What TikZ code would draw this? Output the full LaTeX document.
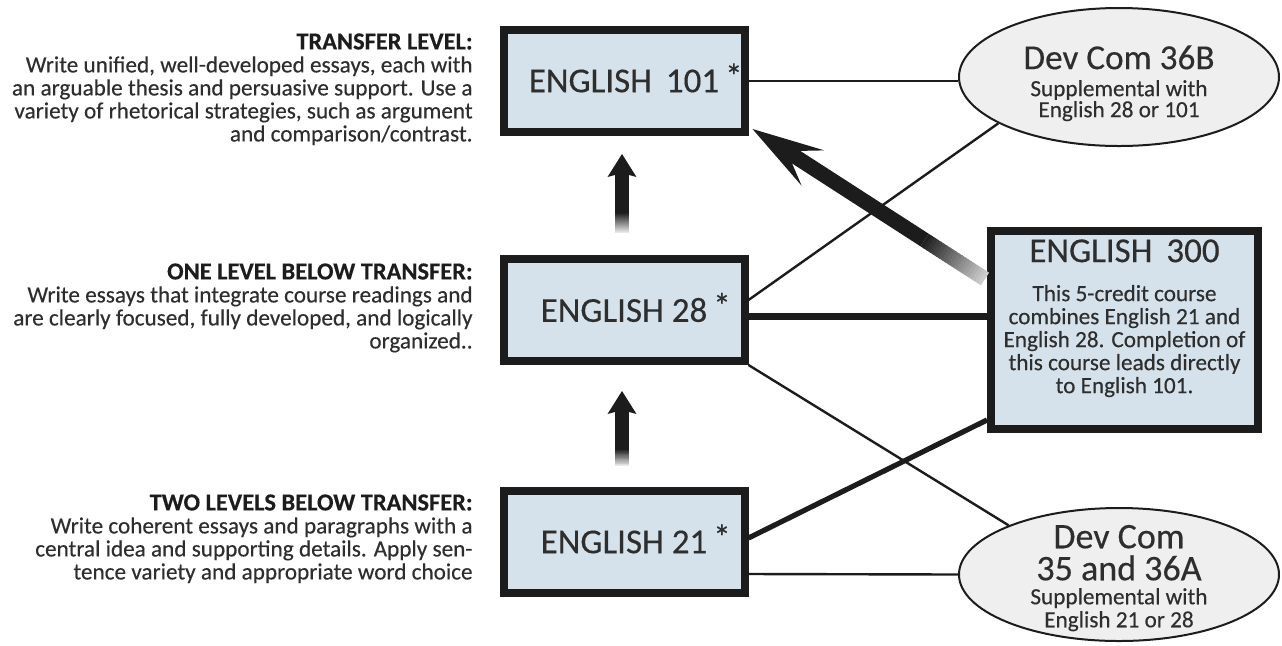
\documentclass[tikz,border=0pt]{standalone}
\usepackage{fontspec}
\setmainfont{Carlito}[FakeBold=0.35]
\usetikzlibrary{calc,shapes.geometric}
\definecolor{boxfill}{HTML}{D6E2EB}
\definecolor{ellfill}{HTML}{EFEFEF}
\definecolor{ink}{HTML}{1C1C1C}
\definecolor{txt}{HTML}{2E2E2E}
\newcommand\hdfont{\fontsize{12.2}{11.5}\selectfont\bfseries\color{ink}}
\newcommand\ttlfont{\fontsize{17.5}{20}\selectfont}
\newcommand\bodysize[1]{\fontsize{11.6}{#1}\selectfont\lineskiplimit=-20pt\relax}
% faded shaft: #1 tip, #2 tail, #3 width, #4 start distance, #5 fade start fraction, #6 final ink percentage
\newcommand\fadedshaft[6]{%
  \draw[line width=#3, ink] ($(#1)!#4!(#2)$) -- ($(#1)!#5!(#2)$);
  \foreach \i in {0,...,19}{%
    \pgfmathsetmacro\fa{#5+(1-#5)*\i/20}%
    \pgfmathsetmacro\fb{#5+(1-#5)*min(\i+1.4,20)/20}%
    \pgfmathsetmacro\fadeval{100-(100-#6)*(\i+0.5)/20}%
    \draw[line width=#3, ink!\fadeval] ($(#1)!\fa!(#2)$) -- ($(#1)!\fb!(#2)$);
  }%
}
% arrow head: #1 tip, #2 tail, #3 barb distance, #4 barb half width, #5 notch distance, #6 notch half width
\newcommand\arrowhead[6]{%
  \fill[ink] (#1) -- ($(#1)!#3!(#2)!#4!90:(#2)$) -- ($(#1)!#5!(#2)!#6!90:(#2)$)
     -- ($(#1)!#5!(#2)!#6!-90:(#2)$) -- ($(#1)!#3!(#2)!#4!-90:(#2)$) -- cycle;
}
\begin{document}
\begin{tikzpicture}[x=0.5pt,y=-0.5pt,
  course/.style={rectangle, draw=ink, line width=4pt, fill=boxfill, inner sep=0pt,
    minimum width=120.5pt, minimum height=51pt, text=txt, font=\ttlfont},
  supp/.style={ellipse, draw=ink, line width=1pt, fill=ellfill, inner sep=0pt,
    minimum width=160pt},
  supptext/.style={align=center, anchor=north, inner sep=0pt, text=txt},
  desc/.style={align=right, anchor=north east, inner sep=0pt, text=txt,
    font=\bodysize{11.5}},
  link/.style={draw=ink, line width=1.2pt},
  midlink/.style={draw=ink, line width=2.6pt},
  heavylink/.style={draw=ink, line width=3.5pt}
]
\useasboundingbox (0,0) rectangle (1282,645);

% description texts
\node[desc] (d1) at (473,33) {{\hdfont TRANSFER LEVEL:}\\Write unified, well-developed essays, each with\\an arguable thesis and persuasive support. Use a\\variety of rhetorical strategies, such as argument\\and comparison/contrast.};
\node[desc] (d2) at (473,263) {{\hdfont ONE LEVEL BELOW TRANSFER:}\\Write essays that integrate course readings and\\are clearly focused, fully developed, and logically\\organized..};
\node[desc] (d3) at (473,494) {{\hdfont TWO LEVELS BELOW TRANSFER:}\\Write coherent essays and paragraphs with a\\central idea and supporting details. Apply sen-\\tence variety and appropriate word choice};

% course boxes
\node[course] (e101) at (624,81) {ENGLISH\hspace{3pt} 101\rlap{\hspace{3pt}\raisebox{2pt}[0pt][0pt]{*}}};
\node[course] (e28) at (624,310) {ENGLISH 28\rlap{\hspace{3pt}\raisebox{2pt}[0pt][0pt]{*}}};
\node[course] (e21) at (624,542) {ENGLISH 21\rlap{\hspace{3pt}\raisebox{2pt}[0pt][0pt]{*}}};
\node[course, minimum width=133.5pt, minimum height=99pt] (e300) at (1124.5,330) {};
\node[supptext, font=\bodysize{11.5}] (e300t) at ([yshift=-6pt]e300.north)
  {{\ttlfont ENGLISH\hspace{3pt} 300}\\[8pt]This 5-credit course\\combines English 21 and\\English 28. Completion of\\this course leads directly\\to English 101.};

% supplemental ellipses
\node[supp, minimum height=69pt] (b36) at (1119,77) {};
\node[supptext, font=\bodysize{10.5}] (b36t) at ([yshift=16pt]b36.center)
  {{\fontsize{17.6}{17}\selectfont Dev Com 36B}\\[3pt]Supplemental with\\English 28 or 101};
\node[supp, minimum height=66.5pt] (b35) at (1119,574.5) {};
\node[supptext, font=\bodysize{11.5}] (b35t) at ([yshift=25pt]b35.center)
  {{\fontsize{18}{18}\selectfont Dev Com}\\[4.5pt]{\fontsize{18}{18}\selectfont 35 and 36A}\\[0.5pt]Supplemental with\\English 21 or 28};

% connectors
\draw[link] (e101.east) -- (e101.east -| b36.west);
\draw[link] ([yshift=5pt]e28.east) -- (b36.201);
\draw[heavylink] ([yshift=-3pt]e28.east) -- ([yshift=-3pt]e28.east -| e300.west);
\draw[link] (e28.south east) -- (b35.156);
\draw[midlink] ([yshift=2pt]e21.east) -- ([yshift=-45pt]e300.west);
\draw[link] ([yshift=-16pt]e21.east) -- (b35.west);

% arrows
\coordinate (dTip) at ([xshift=2pt,yshift=3.5pt]e101.south east);
\coordinate (dTail) at ([xshift=-1pt,yshift=25.5pt]e300.west);
\coordinate (uATip) at ([xshift=-1pt,yshift=-9pt]e101.south);
\coordinate (uATail) at ([xshift=-1pt,yshift=11pt]e28.north);
\coordinate (uBTip) at ([xshift=-1pt,yshift=-13pt]e28.south);
\coordinate (uBTail) at ([xshift=-1pt,yshift=10.5pt]e21.north);

\fadedshaft{dTip}{dTail}{7.5pt}{25pt}{0.74}{20}
\arrowhead{dTip}{dTail}{36pt}{10.5pt}{26pt}{3.75pt}
\fadedshaft{uATip}{uATail}{7pt}{10pt}{0.75}{8}
\arrowhead{uATip}{uATail}{11.5pt}{7.25pt}{10.5pt}{3.5pt}
\fadedshaft{uBTip}{uBTail}{7pt}{10pt}{0.78}{8}
\arrowhead{uBTip}{uBTail}{11.5pt}{7.25pt}{10.5pt}{3.5pt}
\end{tikzpicture}
\end{document}
